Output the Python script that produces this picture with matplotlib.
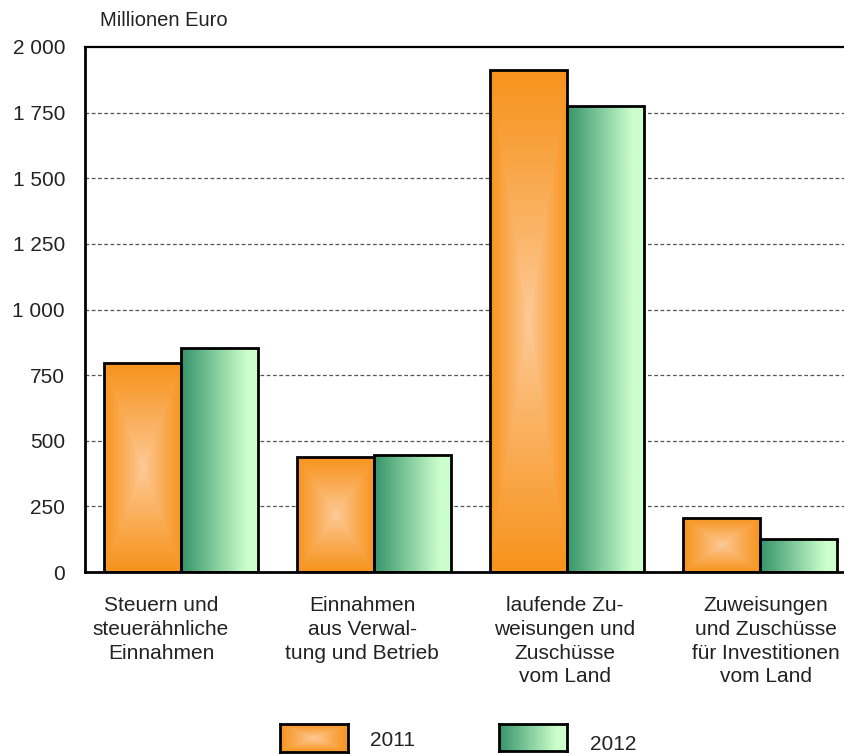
import numpy as np
import matplotlib
matplotlib.use("Agg")
import matplotlib.pyplot as plt
from matplotlib.colors import to_rgb
from matplotlib.transforms import ScaledTranslation

plt.rcParams['font.family'] = ['Liberation Sans', 'DejaVu Sans']

categories = ["Steuern und\nsteuerähnliche\nEinnahmen",
              "Einnahmen\naus Verwal-\ntung und Betrieb",
              "laufende Zu-\nweisungen und\nZuschüsse\nvom Land",
              "Zuweisungen\nund Zuschüsse\nfür Investitionen\nvom Land"]
values_2011 = [796, 438, 1912, 206]
values_2012 = [853, 444, 1775, 126]
series_names = ["2011", "2012"]
yticks = [0, 250, 500, 750, 1000, 1250, 1500, 1750, 2000]
ytick_labels = ["0", "250", "500", "750", "1 000", "1 250", "1 500", "1 750", "2 000"]
unit_label = "Millionen Euro"

TXT = "#222222"


def orange_img(n=200):
    c_center = np.array(to_rgb("#FDCB9A"))
    c_edge = np.array(to_rgb("#F7931C"))
    u = np.linspace(-1, 1, n)
    U, V = np.meshgrid(u, u)
    t = np.clip(np.maximum(np.abs(U), np.abs(V)), 0, 1) ** 0.9
    return c_center[None, None, :] * (1 - t[..., None]) + c_edge[None, None, :] * t[..., None]


def green_img(n=200):
    c_left = np.array(to_rgb("#35946A"))
    c_right = np.array(to_rgb("#CCFFCC"))
    u = np.clip(np.linspace(0, 1, n) / 0.85, 0, 1)
    U, V = np.meshgrid(u, np.linspace(0, 1, 4))
    return c_left[None, None, :] * (1 - U[..., None]) + c_right[None, None, :] * U[..., None]


fig = plt.figure(figsize=(8.45, 7.56), dpi=100)
ax = fig.add_axes([84.5 / 845, (756 - 572) / 756, 772 / 845, 525 / 756])

x = np.arange(len(categories))
w = 0.4
bars1 = ax.bar(x - w / 2, values_2011, w, facecolor='none', edgecolor='black', linewidth=2, zorder=3)
bars2 = ax.bar(x + w / 2, values_2012, w, facecolor='none', edgecolor='black', linewidth=2, zorder=3)

oimg = orange_img()
gimg = green_img()
for bars, img in ((bars1, oimg), (bars2, gimg)):
    for p in bars:
        x0, y0 = p.get_xy()
        im = ax.imshow(img, extent=(x0, x0 + p.get_width(), y0, y0 + p.get_height()),
                       aspect='auto', zorder=2, interpolation='bilinear', origin='lower')
        im.set_clip_path(p)

ax.set_xlim(-0.5, len(categories) - 0.5)
ax.set_ylim(0, 2000)
ax.set_yticks(yticks)
ax.set_yticklabels(ytick_labels, fontsize=15, color=TXT)
ax.set_xticks(x)
ax.set_xticklabels(categories, fontsize=15, color=TXT, linespacing=1.33, va='top')
ax.tick_params(axis='both', length=0)
ax.tick_params(axis='y', pad=14)
ax.tick_params(axis='x', pad=17)

# slight horizontal shifts of category labels as in the reference
label_shift_px = [-20, -12, -2, 6]
for lab, dx in zip(ax.get_xticklabels(), label_shift_px):
    lab.set_transform(lab.get_transform() + ScaledTranslation(dx / 100, 0, fig.dpi_scale_trans))

for yv in yticks[1:-1]:
    ax.axhline(yv, color='#555555', linewidth=0.9, linestyle=(0, (3, 2)), zorder=1)

ax.spines['right'].set_visible(False)
for s in ('left', 'bottom', 'top'):
    ax.spines[s].set_linewidth(2)
    ax.spines[s].set_color('black')
ax.spines['top'].set_linewidth(1.6)

fig.text(100 / 845, 1 - 20 / 756, unit_label, fontsize=14.5, color=TXT, va='center', ha='left')

# legend
legend_specs = [(280, 724, 68, 28, oimg, 370, 741, series_names[0]),
                (499, 724, 68, 27, gimg, 590, 744, series_names[1])]
for (lx, ly, lw, lh, img, tx, ty, lab) in legend_specs:
    lax = fig.add_axes([lx / 845, (756 - ly - lh) / 756, lw / 845, lh / 756])
    lax.imshow(img, aspect='auto', interpolation='bilinear', extent=(0, 1, 0, 1))
    lax.set_xticks([])
    lax.set_yticks([])
    for s in lax.spines.values():
        s.set_linewidth(2)
        s.set_color('black')
    fig.text(tx / 845, 1 - ty / 756, lab, fontsize=15, color=TXT, va='center', ha='left')

fig.savefig("out.png", dpi=100)
